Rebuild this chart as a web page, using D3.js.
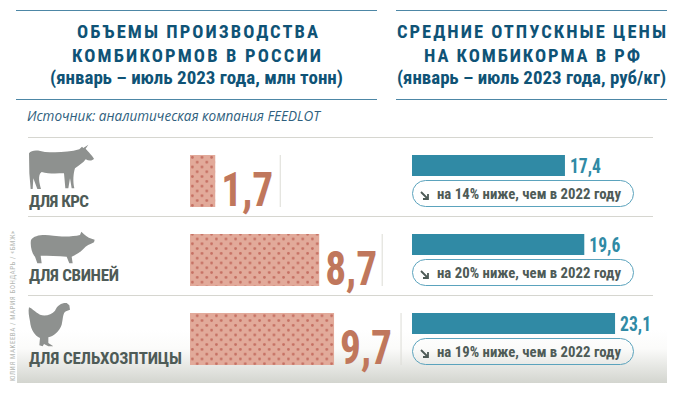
<!DOCTYPE html>
<html><head><meta charset="utf-8">
<style>html,body{margin:0;padding:0;background:#fff}svg{display:block}</style>
<script src="https://cdn.jsdelivr.net/npm/d3@7"></script></head>
<body><div id="c"></div>
<script>
const categories=["ДЛЯ КРС","ДЛЯ СВИНЕЙ","ДЛЯ СЕЛЬХОЗПТИЦЫ"];
const volumes=[1.7,8.7,9.7];
const prices=[17.4,19.6,23.1];
const declines=[14,20,19];
const volumeLabels=["1,7","8,7","9,7"];
const priceLabels=["17,4","19,6","23,1"];
const iconPaths=[
"M27,40 C35,28 55,30 75,36 C105,38 145,38 178,28 L186,20 L190,24 L205,14 L197,26 C205,35 218,48 222,56 C218,62 208,64 197,58 C190,68 178,76 165,85 C160,100 158,125 163,145 L155,145 L150,115 L145,145 L136,145 L132,100 C110,100 85,102 65,96 C52,105 58,130 63,147 L52,147 L40,115 L38,147 L32,147 L28,100 Z",
"M33,45 C42,30 70,28 100,32 C125,36 160,35 180,30 L184,20 L192,28 C200,36 212,42 224,44 L222,52 C210,58 198,62 190,72 C178,85 165,90 155,95 L158,115 L148,115 L140,95 C115,92 85,92 62,92 L65,115 L52,115 L45,95 C35,85 30,60 33,45 Z",
"M27,28 C35,30 45,42 60,50 C75,56 95,50 105,38 C112,22 125,14 140,15 L148,22 L150,35 L138,40 C128,45 130,60 125,80 C118,100 100,115 85,118 L85,135 L100,145 L85,145 L72,138 L68,145 L58,142 L60,120 C45,115 32,95 30,70 C27,55 24,40 27,28 Z"];
const iconOrigins=[[20,140],[20,225],[20,298]];
const sub="(январь – июль 2023 года, ";
const W=678,H=393;
const narrow="'Liberation Sans Narrow','Roboto Condensed',Roboto,sans-serif";
const svg=d3.select("#c").append("svg").attr("width",W).attr("height",H);
const defs=svg.append("defs");
const g=defs.append("linearGradient").attr("id","fade").attr("x1",0).attr("x2",0).attr("y1",0).attr("y2",1);
g.append("stop").attr("offset",0).attr("stop-color","#fff");
g.append("stop").attr("offset",.35).attr("stop-color","#fbfbfa");
g.append("stop").attr("offset",1).attr("stop-color","#d3d5cf");
const p=defs.append("pattern").attr("id","dots").attr("patternUnits","userSpaceOnUse").attr("x",190).attr("y",155).attr("width",9.6).attr("height",9.6);
p.append("rect").attr("width",9.6).attr("height",9.6).attr("fill","#e2aa9a");
[[2.4,2.4],[7.2,7.2]].forEach(d=>p.append("circle").attr("cx",d[0]).attr("cy",d[1]).attr("r",1.4).attr("fill","#c56f62"));

svg.append("rect").attr("x",17).attr("y",330).attr("width",650).attr("height",53).attr("fill","url(#fade)");

function text(t,x,y,len,size,weight,fill,fam,adj){
  return svg.append("text").attr("x",x).attr("y",y).attr("font-size",size).attr("font-weight",weight)
   .attr("fill",fill).attr("font-family",fam).attr("textLength",len).attr("lengthAdjust",adj||"spacingAndGlyphs").text(t);
}
const navy="#0f5376", rule="#4d87a6";
[[16,377],[396,667]].forEach(r=>[10,99].forEach(y=>svg.append("line").attr("x1",r[0]).attr("x2",r[1]).attr("y1",y+.5).attr("y2",y+.5).attr("stroke",rule).attr("stroke-width",1.2)));
text("ОБЪЕМЫ ПРОИЗВОДСТВА",77,38,241,18.5,700,navy,narrow,"spacing");
text("КОМБИКОРМОВ В РОССИИ",72,62,249,18.5,700,navy,narrow,"spacing");
text(sub+"млн тонн)",50,84,293,19,700,navy,narrow);
text("СРЕДНИЕ ОТПУСКНЫЕ ЦЕНЫ",397,38,269,18.5,700,navy,narrow,"spacing");
text("НА КОМБИКОРМА В РФ",424,62,216,18.5,700,navy,narrow,"spacing");
text(sub+"руб/кг)",397,84,269,19,700,navy,narrow);
text("Источник: аналитическая компания FEEDLOT",27,121,293,14,400,"#2f5f7e","'Open Sans',sans-serif").attr("font-style","italic");

[137,216,295].forEach(y=>svg.append("line").attr("x1",28).attr("x2",653).attr("y1",y+.5).attr("y2",y+.5).attr("stroke","#d6d6d0").attr("stroke-width",1));

const xVol=d3.scaleLinear().domain([0,10]).range([190,338.5]);
const xPrice=d3.scaleLinear().domain([0,20]).range([412,587.8]);
const rowY=d3.scalePoint().domain(d3.range(3)).range([155,313]);
const labelWidths=[60,90,153];
const labelBase=[207,281,364];
const numW=52, ruleGap=[7,5,9];

const rows=svg.selectAll("g.row").data(d3.range(3)).join("g");
rows.append("path").attr("d",i=>iconPaths[i]).attr("fill","#8e918f")
  .attr("transform",i=>`translate(${iconOrigins[i][0]},${iconOrigins[i][1]}) scale(${1/3})`);
rows.each(function(i){
  const y=rowY(i);
  text(categories[i],29,labelBase[i],labelWidths[i],17,700,"#4e5b57",narrow,"spacing");
  svg.append("rect").attr("x",xVol(0)).attr("y",y).attr("width",xVol(volumes[i])-xVol(0)).attr("height",52).attr("fill","url(#dots)");
  const nx=xVol(volumes[i])+6;
  text(volumeLabels[i],nx,y+51,numW,48,700,"#c0775c",narrow);
  const lx=nx+numW+ruleGap[i];
  svg.append("line").attr("x1",lx).attr("x2",lx).attr("y1",y).attr("y2",y+52).attr("stroke","#dcdcd6").attr("stroke-width",1);
  svg.append("rect").attr("x",xPrice(0)).attr("y",y).attr("width",xPrice(prices[i])-xPrice(0)).attr("height",21).attr("fill","#308aa5");
  text(priceLabels[i],xPrice(prices[i])+5,y+18,31,20.5,700,"#308aa5",narrow);
  svg.append("rect").attr("x",412.5).attr("y",y+25.5).attr("width",221).attr("height",26).attr("rx",13).attr("fill","#fff").attr("fill-opacity",i==2?0:1).attr("stroke","#5ba3bd").attr("stroke-width",1);
  svg.append("path").attr("d","M0,0 L7,7 M7,2 V7 H2").attr("transform",`translate(421,${y+37})`).attr("fill","none").attr("stroke","#4e5b57").attr("stroke-width",1.8);
  text(`на ${declines[i]}% ниже, чем в 2022 году`,437,y+44,184,15.5,700,"#4e5b57",narrow);
});
svg.append("text").attr("transform","translate(15,381) rotate(-90)").attr("font-size",7).attr("fill","#b4b7b3").attr("font-family",narrow)
  .attr("textLength",150).attr("lengthAdjust","spacing").text("ЮЛИЯ МАКЕЕВА / МАРИЯ БОНДАРЬ / «БМЖ»");
</script></body></html>
